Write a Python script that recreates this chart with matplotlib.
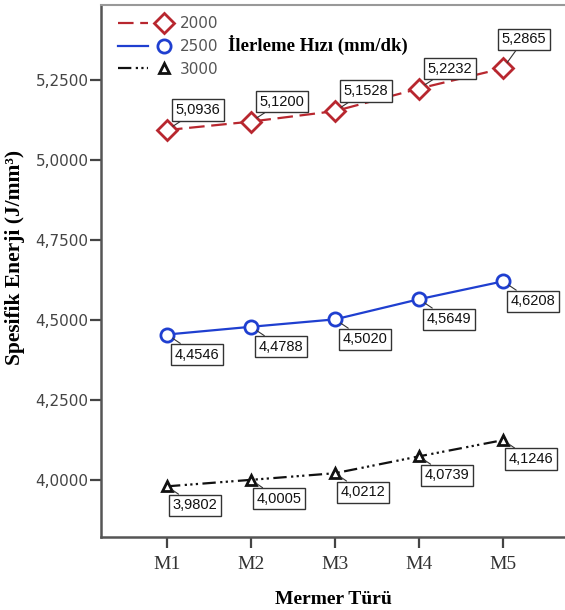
import numpy as np
import matplotlib
matplotlib.use("Agg")
import matplotlib.pyplot as plt
from matplotlib.legend_handler import HandlerLine2D
from matplotlib.lines import Line2D
from matplotlib.ticker import FuncFormatter

# ── Data ──────────────────────────────────────────────────────────────────────
marble   = ["M1", "M2", "M3", "M4", "M5"]
feeds    = ["2000", "2500", "3000"]
e_2000   = [5.0936, 5.1200, 5.1528, 5.2232, 5.2865]
e_2500   = [4.4546, 4.4788, 4.5020, 4.5649, 4.6208]
e_3000   = [3.9802, 4.0005, 4.0212, 4.0739, 4.1246]
y_ticks  = [4.0, 4.25, 4.5, 4.75, 5.0, 5.25]

# ── Styles ────────────────────────────────────────────────────────────────────
styles = [
    dict(color="#b8272f", ls=(0, (7, 3)), marker="D", ms=10, lab_off=[(31, 20)] * 4 + [(21, 29)]),
    dict(color="#1f3fd0", ls="-", marker="o", ms=9.5, lab_off=[(30, -20)] * 5),
    dict(color="#111111", ls=(0, (6, 2, 1, 1.5, 1, 1.5, 1, 2)), marker="^", ms=7, lab_off=[(28, -19)] * 5),
]


class EndMarkerHandler(HandlerLine2D):
    # SPSS-style legend: line first, marker at the right end
    def create_artists(self, legend, orig_handle, xdescent, ydescent,
                       width, height, fontsize, trans):
        y = (height - ydescent) / 2
        line = Line2D([-xdescent, -xdescent + 0.6 * width], [y, y])
        self.update_prop(line, orig_handle, legend)
        line.set_marker("None")
        mk = Line2D([-xdescent + 0.9 * width], [y])
        self.update_prop(mk, orig_handle, legend)
        mk.set_linestyle("None")
        line.set_transform(trans)
        mk.set_transform(trans)
        return [line, mk]


fig = plt.figure(figsize=(5.65, 6.10), dpi=100)
ax = fig.add_axes([101 / 565, 73 / 610, 1 - 101 / 565, 532 / 610])

x = np.arange(1, len(marble) + 1)
lines = []
for name, vals, st in zip(feeds, [e_2000, e_2500, e_3000], styles):
    ln, = ax.plot(x, vals, color=st["color"], linestyle=st["ls"], lw=1.6,
                  marker=st["marker"], ms=st["ms"], mfc="white", mec=st["color"],
                  mew=2, label=name, zorder=3)
    lines.append(ln)
    for xi, v, (dx, dy) in zip(x, vals, st["lab_off"]):
        ax.annotate(f"{v:.4f}".replace(".", ","), (xi, v),
                    xytext=(dx, dy), textcoords="offset pixels",
                    ha="center", va="center", fontsize=10.5,
                    family="Liberation Sans", color="#111111",
                    bbox=dict(boxstyle="square,pad=0.25", fc="white", ec="#333333", lw=1),
                    arrowprops=dict(arrowstyle="-", color="#333333", lw=0.8,
                                    shrinkA=0, shrinkB=5),
                    zorder=4)

ax.set_xlim(1 - 66 / 84, 5 + 62 / 84)
ax.set_ylim(4.0 - 57 / 320, 5.25 + 75 / 320)
ax.set_xticks(x)
ax.set_xticklabels(marble, family="Liberation Serif", fontsize=14, color="#333333")
ax.set_yticks(y_ticks)
ax.yaxis.set_major_formatter(FuncFormatter(lambda v, p: f"{v:.4f}".replace(".", ",")))
for lab in ax.get_yticklabels():
    lab.set_family("DejaVu Sans")
ax.tick_params(axis="y", labelsize=11, labelcolor="#444444", length=8, width=1.6,
               color="#444444", pad=1)
ax.tick_params(axis="x", length=8, width=1.6, color="#444444", pad=6)

for side in ["left", "bottom"]:
    ax.spines[side].set_color("#555555")
    ax.spines[side].set_linewidth(1.8)
ax.spines["top"].set_color("#999999")
ax.spines["top"].set_linewidth(1.5)
ax.spines["right"].set_visible(False)

ax.set_xlabel("Mermer Türü", family="Liberation Serif", fontweight="bold",
              fontsize=14, labelpad=13)
fig.text(15 / 565, 1 - 257 / 610, "Spesifik Enerji (J/mm³)", rotation=90,
         ha="center", va="center", family="Liberation Serif",
         fontweight="bold", fontsize=15.5)

leg = ax.legend(handles=lines, loc="upper left", bbox_to_anchor=(0.009, 1.003),
                frameon=False, fontsize=11, handlelength=3.3, handletextpad=0.75,
                labelspacing=0.5, borderaxespad=0.45,
                handler_map={l: EndMarkerHandler() for l in lines})
for t in leg.get_texts():
    t.set_color("#555555")
ax.text(228 / 565, 1 - 45 / 610, "İlerleme Hızı (mm/dk)", transform=fig.transFigure,
        ha="left", va="center", family="Liberation Serif", fontweight="bold",
        fontsize=13.5)

fig.savefig("out.png", dpi=100)
